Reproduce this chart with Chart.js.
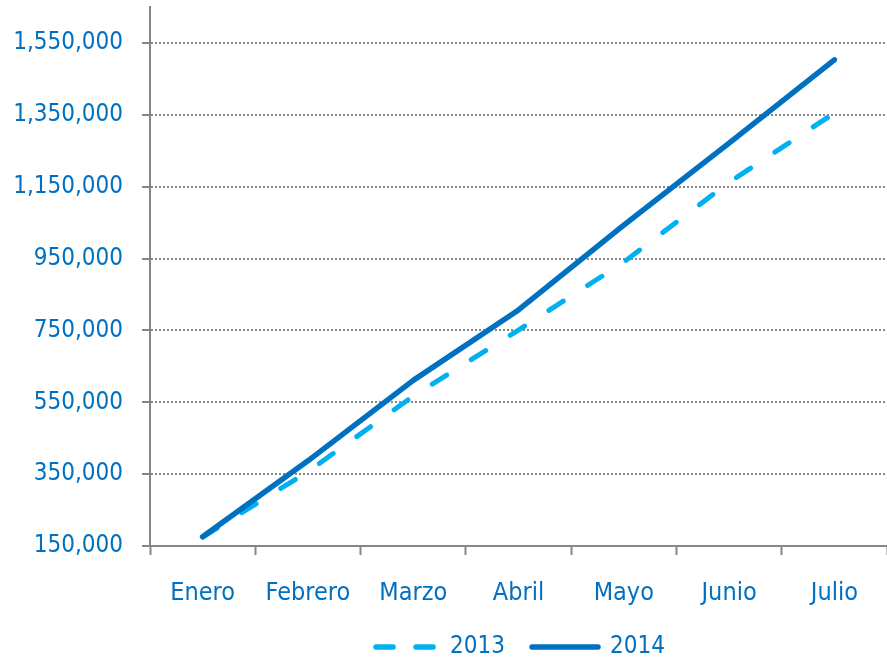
<!DOCTYPE html>
<html>
<head>
<meta charset="utf-8">
<script src="https://cdn.jsdelivr.net/npm/chart.js@4/dist/chart.umd.min.js"></script>
<style>
  html, body { margin: 0; padding: 0; background: #ffffff; }
  #wrap { width: 887px; height: 660px; position: relative; }
</style>
</head>
<body>
<div id="wrap"><canvas id="grafico"></canvas></div>
<script>
// Meses y ventas acumuladas por año
const meses = ['Enero', 'Febrero', 'Marzo', 'Abril', 'Mayo', 'Junio', 'Julio'];
const ventas2013 = [175000, 357000, 567000, 751000, 940000, 1162000, 1355000];
const ventas2014 = [176000, 387000, 611000, 807000, 1043000, 1271000, 1503000];
const marcasEjeY = [150000, 350000, 550000, 750000, 950000, 1150000, 1350000, 1550000];
const ejeYMin = 150000;
const ejeYMax = 1650000;

const AZUL_CLARO = '#00B0F0';
const AZUL_OSCURO = '#0070C0';
const GRIS = '#868686';
const FUENTE = "'DejaVu Sans Condensed', 'Liberation Sans', sans-serif";

// Muestras de línea para la leyenda
function muestraLinea(ancho, color, guiones) {
  const c = document.createElement('canvas');
  c.width = ancho; c.height = 10;
  const g = c.getContext('2d');
  g.strokeStyle = color;
  g.lineWidth = 5.5;
  g.lineCap = 'round';
  g.setLineDash(guiones);
  g.beginPath();
  g.moveTo(3, 5);
  g.lineTo(ancho - 3, 5);
  g.stroke();
  return c;
}

const muestra2013 = muestraLinea(64, AZUL_CLARO, [17, 23]);
const muestra2014 = muestraLinea(72, AZUL_OSCURO, []);

new Chart(document.getElementById('grafico'), {
  type: 'line',
  data: {
    labels: meses,
    datasets: [
      {
        label: '2013',
        data: ventas2013,
        borderColor: AZUL_CLARO,
        backgroundColor: AZUL_CLARO,
        borderWidth: 5,
        borderDash: [17, 29],
        borderCapStyle: 'round',
        borderJoinStyle: 'round',
        tension: 0,
        pointRadius: 0,
        pointHoverRadius: 0,
        pointStyle: muestra2013,
        order: 1
      },
      {
        label: '2014',
        data: ventas2014,
        borderColor: AZUL_OSCURO,
        backgroundColor: AZUL_OSCURO,
        borderWidth: 5.5,
        borderCapStyle: 'round',
        borderJoinStyle: 'round',
        tension: 0,
        pointRadius: 0,
        pointHoverRadius: 0,
        pointStyle: muestra2014,
        order: 0
      }
    ]
  },
  options: {
    responsive: true,
    maintainAspectRatio: false,
    animation: false,
    devicePixelRatio: 1,
    layout: { padding: { top: 7, right: 0, left: 0, bottom: -9 } },
    scales: {
      x: {
        type: 'category',
        offset: true,
        afterFit: (eje) => { eje.height = 62; },
        grid: {
          offset: true,
          drawOnChartArea: false,
          drawTicks: true,
          tickLength: 9,
          tickColor: GRIS,
          tickWidth: 2
        },
        border: { display: true, color: GRIS, width: 2 },
        ticks: {
          color: AZUL_OSCURO,
          font: { family: FUENTE, size: 25 },
          padding: 23,
          maxRotation: 0,
          autoSkip: false
        }
      },
      y: {
        min: ejeYMin,
        max: ejeYMax,
        afterBuildTicks: (eje) => { eje.ticks = marcasEjeY.map(v => ({ value: v })); },
        afterFit: (eje) => { eje.width = 150; eje.paddingTop = 0; eje.paddingBottom = 0; },
        grid: {
          color: GRIS,
          lineWidth: 2,
          drawTicks: true,
          tickLength: 8,
          tickColor: GRIS,
          tickWidth: 2,
          tickBorderDash: []
        },
        border: { display: true, color: GRIS, width: 2, dash: [2, 2] },
        ticks: {
          color: AZUL_OSCURO,
          font: { family: FUENTE, size: 24 },
          padding: 19,
          callback: (v) => Number(v).toLocaleString('en-US')
        }
      }
    },
    plugins: {
      tooltip: { enabled: false },
      legend: {
        display: true,
        position: 'bottom',
        fullSize: false,
        labels: {
          usePointStyle: true,
          pointStyleWidth: 66,
          boxHeight: 10,
          padding: 27,
          color: AZUL_OSCURO,
          font: { family: FUENTE, size: 24 },
          sort: (a, b) => a.datasetIndex - b.datasetIndex
        }
      }
    }
  }
});
</script>
</body>
</html>
